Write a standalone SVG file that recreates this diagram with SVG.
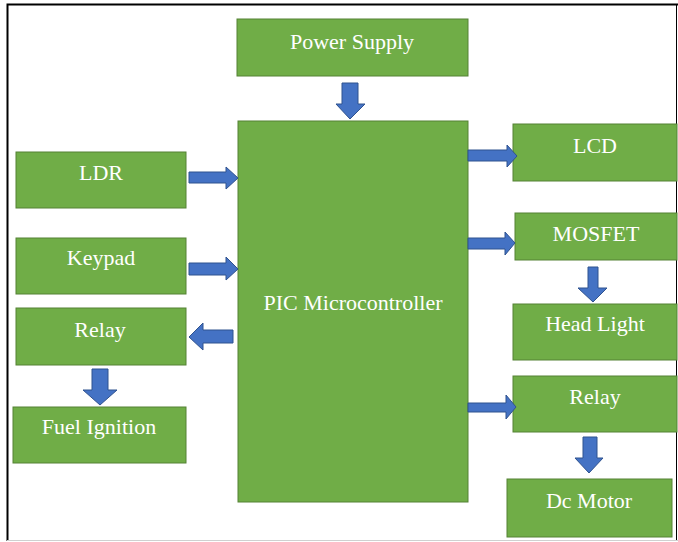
<svg xmlns="http://www.w3.org/2000/svg" width="678" height="542" viewBox="0 0 678 542">
<style>
.box{fill:#70AD47;stroke:#548235;stroke-width:1}
.arr{fill:#4472C4;stroke:#2F528F;stroke-width:1}
</style>
<rect x="0" y="0" width="678" height="542" fill="#ffffff"/>
<path d="M7.5,541 V4.5 H678" fill="none" stroke="#000" stroke-width="2"/>
<path d="M676.5,4.5 V541" fill="none" stroke="#000" stroke-width="1"/>
<line x1="7" y1="540.5" x2="678" y2="540.5" stroke="#d0d0d0" stroke-width="1"/>
<g font-family="Liberation Serif, Times New Roman, DejaVu Serif, serif" font-size="22" fill="#ffffff" text-anchor="middle">
<g id="power"><rect class="box" x="237" y="19" width="231" height="57"/><text x="352" y="49">Power Supply</text></g>
<g id="pic"><rect class="box" x="238" y="121" width="230" height="381"/><text x="353" y="310">PIC Microcontroller</text></g>
<g id="ldr"><rect class="box" x="16" y="152" width="170" height="56"/><text x="101" y="180">LDR</text></g>
<g id="keypad"><rect class="box" x="16" y="238" width="170" height="56"/><text x="101" y="265">Keypad</text></g>
<g id="relayL"><rect class="box" x="16" y="308" width="170" height="57"/><text x="100" y="337">Relay</text></g>
<g id="fuel"><rect class="box" x="13" y="407" width="173" height="56"/><text x="99" y="434">Fuel Ignition</text></g>
<g id="lcd"><rect class="box" x="513" y="124" width="164" height="57"/><text x="595" y="153">LCD</text></g>
<g id="mosfet"><rect class="box" x="515" y="213" width="162" height="47"/><text x="596" y="241">MOSFET</text></g>
<g id="headlight"><rect class="box" x="513" y="304" width="164" height="56"/><text x="595" y="331">Head Light</text></g>
<g id="relayR"><rect class="box" x="513" y="376" width="164" height="56"/><text x="595" y="404">Relay</text></g>
<g id="dcmotor"><rect class="box" x="507" y="479" width="165" height="58"/><text x="589" y="508">Dc Motor</text></g>
</g>
<g id="connectors">
<path class="arr" d="M342,83 H358 V104 H365 L350,119 L336,104 H342 Z"/>
<path class="arr" d="M189,172 H226 V167 L238,178 L226,189 V183 H189 Z"/>
<path class="arr" d="M189,263 H226 V257 L238,269 L226,280 V275 H189 Z"/>
<path class="arr" d="M233,330 H203 V323 L189,337 L203,350 V343 H233 Z"/>
<path class="arr" d="M92,369 H108 V390 H117 L100,405 L83,390 H92 Z"/>
<path class="arr" d="M468,150 H507 V145 L517,156 L507,167 V161 H468 Z"/>
<path class="arr" d="M468,238 H505 V232 L515,243 L505,255 V249 H468 Z"/>
<path class="arr" d="M588,267 H598 V288 H607 L593,302 L578,288 H588 Z"/>
<path class="arr" d="M468,403 H506 V395 L516,407 L506,419 V412 H468 Z"/>
<path class="arr" d="M583,437 H597 V458 H603 L589,473 L575,458 H583 Z"/>
</g>
</svg>
